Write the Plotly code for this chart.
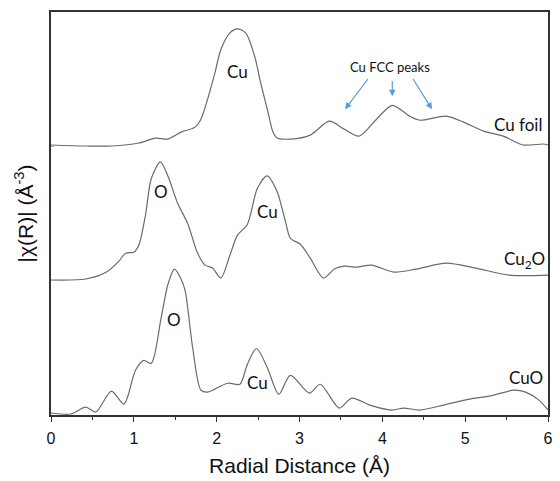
import plotly.graph_objects as go

# ---- data (R in Å, |chi(R)| in arbitrary stacked units) ----
cu_foil_r = [0.00, 0.42, 0.73, 1.06, 1.26, 1.41, 1.57, 1.74, 1.81, 1.89, 1.98, 2.05, 2.16, 2.25, 2.35, 2.46, 2.53, 2.62, 2.68, 2.73,
             2.89, 3.13, 3.36, 3.54, 3.72, 3.93, 4.12, 4.33, 4.45, 4.77, 4.98, 5.22, 5.46, 5.70, 5.94, 6.00]
cu_foil_y = [272, 271, 271, 274, 279, 278, 285, 290, 298, 318, 345, 368, 385, 389, 385, 361, 335, 305, 285, 279,
             278, 282, 296, 288, 281, 298, 312, 301, 297, 301, 295, 286, 281, 272, 273, 272]

cu2o_r = [0.00, 0.42, 0.67, 0.82, 0.90, 1.00, 1.06, 1.14, 1.21, 1.32, 1.41, 1.53, 1.65, 1.77, 1.86, 1.95, 2.05, 2.16, 2.25, 2.37,
          2.49, 2.61, 2.73, 2.83, 2.89, 3.01, 3.13, 3.29, 3.42, 3.54, 3.69, 3.87, 4.14, 4.41, 4.77, 5.13, 5.53, 6.00]
cu2o_y = [136, 137, 144, 155, 163, 164, 171, 201, 238, 255, 241, 213, 193, 163, 151, 148, 138, 161, 181, 192,
          228, 241, 225, 195, 178, 172, 158, 138, 147, 150, 149, 151, 144, 147, 153, 148, 141, 141]

cuo_r = [0.00, 0.24, 0.42, 0.54, 0.73, 0.88, 1.02, 1.12, 1.21, 1.33, 1.41, 1.49, 1.57, 1.62, 1.71, 1.81, 1.89, 2.13, 2.28, 2.37,
         2.48, 2.61, 2.75, 2.89, 3.12, 3.25, 3.48, 3.63, 3.85, 4.11, 4.26, 4.45, 4.74, 5.05, 5.29, 5.59, 5.73, 5.89, 6.00]
cuo_y = [2, 1, 8, 3, 24, 11, 45, 55, 52, 98, 131, 147, 137, 125, 68, 25, 23, 32, 31, 51,
         67, 48, 21, 40, 22, 31, 7, 17, 10, 5, 7, 5, 10, 16, 19, 25, 23, 15, 5]

x_ticks = [0, 1, 2, 3, 4, 5, 6]
series = [("Cu foil", cu_foil_r, cu_foil_y), ("Cu2O", cu2o_r, cu2o_y), ("CuO", cuo_r, cuo_y)]

fig = go.Figure()
for name, r, y in series:
    fig.add_trace(go.Scatter(x=r, y=y, mode="lines", name=name,
                             line=dict(color="#6a6a6a", width=1.2, shape="spline", smoothing=0.8),
                             showlegend=False, hoverinfo="skip"))

lab_font = dict(family="Lato, Open Sans, sans-serif", size=17, color="#111111")
labels = [
    (2.25, 346, "Cu"), (5.64, 293, "Cu foil"),
    (1.33, 225, "O"), (2.61, 205, "Cu"), (5.72, 156, "Cu<sub>2</sub>O"),
    (1.49, 96, "O"), (2.49, 33, "Cu"), (5.73, 38, "CuO"),
]
for xx, yy, t in labels:
    fig.add_annotation(x=xx, y=yy, text=t, showarrow=False, font=lab_font)

fig.add_annotation(x=4.09, y=351, text="Cu FCC peaks", showarrow=False,
                   font=dict(family="Lato, Open Sans, sans-serif", size=13, color="#111111"))
arrows = [((3.84, 340), (3.55, 308)), ((4.12, 338), (4.12, 321)), ((4.36, 340), (4.60, 308))]
for (tx, ty), (hx, hy) in arrows:
    fig.add_annotation(x=hx, y=hy, ax=tx, ay=ty, xref="x", yref="y", axref="x", ayref="y",
                       text="", showarrow=True, arrowhead=2, arrowsize=1.1, arrowwidth=1.2,
                       arrowcolor="#5b9bd5")

fig.update_layout(
    width=560, height=481,
    margin=dict(l=51, r=7, t=12, b=63),
    paper_bgcolor="white", plot_bgcolor="white",
    font=dict(family="Liberation Sans, Arial, sans-serif", color="#111111"),
)
fig.update_xaxes(
    range=[0, 6], tickvals=x_ticks, ticktext=[str(v) for v in x_ticks],
    showgrid=False, zeroline=False,
    showline=True, linecolor="#333333", linewidth=1.5, mirror=True,
    ticks="outside", ticklen=5, tickwidth=1.3, tickcolor="#333333",
    minor=dict(ticks="outside", dtick=0.5, ticklen=3, tickwidth=1.2, tickcolor="#333333"),
    tickfont=dict(size=16, family="Liberation Sans, Arial, sans-serif"),
    ticklabelstandoff=3,
    title=dict(text="Radial Distance (Å)", font=dict(size=21, family="Liberation Sans, Arial, sans-serif"), standoff=12),
)
fig.update_yaxes(
    range=[0, 406], showgrid=False, zeroline=False,
    showline=True, linecolor="#333333", linewidth=1.5, mirror=True,
    tickvals=[136, 271], ticks="inside", ticklen=3, tickcolor="#aaaaaa", showticklabels=False,
    title=dict(text="|χ(R)| (Å<sup>-3</sup>)", font=dict(size=21, family="Liberation Sans, Arial, sans-serif"), standoff=10),
)

fig.write_html("out.html")
